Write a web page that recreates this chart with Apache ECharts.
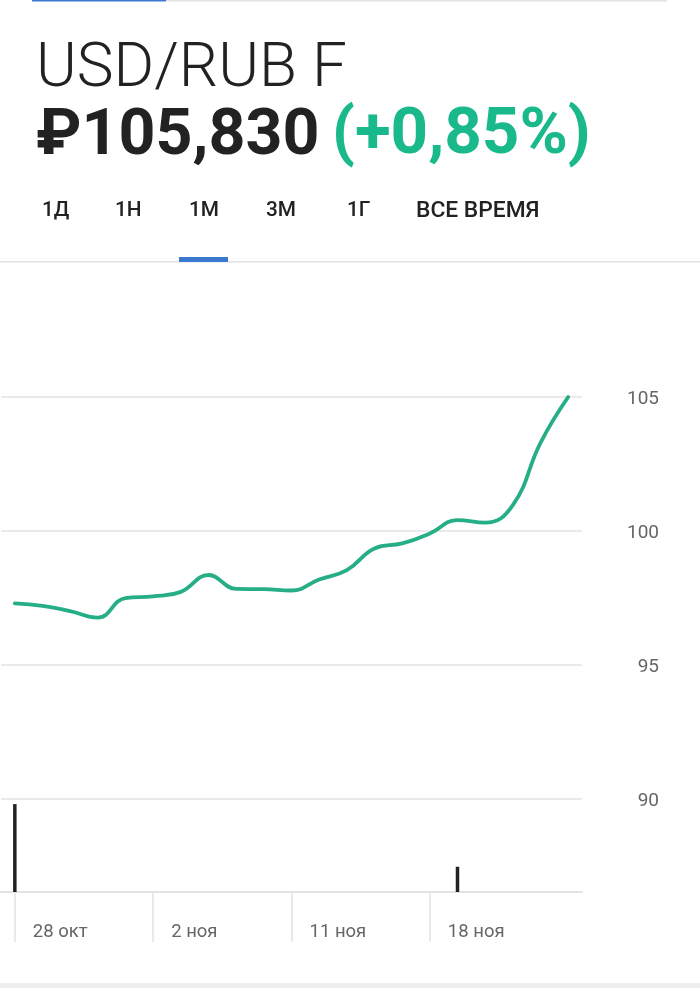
<!DOCTYPE html>
<html>
<head>
<meta charset="utf-8">
<script src="https://cdn.jsdelivr.net/npm/echarts@6/dist/echarts.min.js"></script>
<style>
  html, body { margin: 0; padding: 0; background: #fff; }
  #chart { width: 700px; height: 988px; }
</style>
</head>
<body>
<div id="chart"></div>
<script>
var days = ['28 окт', '29 окт', '30 окт', '31 окт', '1 ноя', '2 ноя', '5 ноя', '6 ноя', '7 ноя', '8 ноя', '11 ноя',
  '12 ноя', '13 ноя', '14 ноя', '15 ноя', '18 ноя', '19 ноя', '20 ноя', '21 ноя', '22 ноя', '25 ноя'];
var prices = [97.29, 97.2, 97.0, 96.76, 97.49, 97.55, 97.72, 98.35, 97.83, 97.82, 97.77,
  98.18, 98.53, 99.34, 99.53, 99.9, 100.4, 100.31, 100.96, 103.29, 105.0];
var volumes = [94, null, null, null, null, null, null, null, null, null, null,
  null, null, null, null, null, 27, null, null, null, null];
var shownDays = ['28 окт', '2 ноя', '11 ноя', '18 ноя'];
var periods = ['1Д', '1Н', '1М', '3М', '1Г', 'ВСЕ ВРЕМЯ'];

var periodX = [42, 115, 189, 266, 347, 416];
var font = 'Roboto, sans-serif';
var gridColor = '#e3e3e3';
var green = '#26ae86';

function isShown(index) {
  return shownDays.indexOf(days[index]) >= 0;
}

var chart = echarts.init(document.getElementById('chart'));

var header = [
  { type: 'rect', shape: { x: 166, y: 0, width: 501, height: 1.5 }, style: { fill: gridColor } },
  { type: 'rect', shape: { x: 32, y: 0, width: 134, height: 1.5 }, style: { fill: '#3b78d0' } },
  { type: 'text', x: 36, y: 101, style: { text: 'USD/RUB F', font: '300 62px ' + font, fill: '#222', textVerticalAlign: 'bottom' } },
  { type: 'text', x: 36, y: 170, style: { text: '₽105,830', font: '700 64.5px ' + font, fill: '#222', textVerticalAlign: 'bottom' } },
  { type: 'text', x: 332, y: 170, style: { text: '(+0,85%)', font: '700 65.5px ' + font, fill: '#19b98b', textVerticalAlign: 'bottom' } },
  { type: 'rect', shape: { x: 0, y: 261, width: 700, height: 1.5 }, style: { fill: gridColor } },
  { type: 'rect', shape: { x: 179, y: 257, width: 49, height: 5 }, style: { fill: '#3b78d0' } },
  { type: 'rect', shape: { x: 0, y: 983, width: 700, height: 5 }, style: { fill: '#eeeeee' } }
];
periods.forEach(function (label, i) {
  var size = label.length > 2 ? 22.8 : 20.8;
  header.push({ type: 'text', x: periodX[i], y: 211, style: { text: label, font: '500 ' + size + 'px ' + font, fill: '#222', textVerticalAlign: 'middle' } });
});

chart.setOption({
  animation: false,
  backgroundColor: '#fff',
  graphic: header,
  grid: [
    { left: 1, width: 581, top: 397, height: 401.5 },
    { left: 1, width: 581, top: 798.5, height: 93.5 }
  ],
  xAxis: [
    { type: 'category', gridIndex: 0, data: days, boundaryGap: true, axisLine: { show: false }, axisTick: { show: false }, axisLabel: { show: false } },
    {
      type: 'category', gridIndex: 1, data: days, boundaryGap: true,
      axisLine: { lineStyle: { color: gridColor, width: 2 } },
      axisTick: {
        show: true, alignWithLabel: true, length: 50,
        interval: function (index) { return isShown(index); },
        lineStyle: { color: gridColor, width: 1.5 }
      },
      axisLabel: {
        interval: function (index) { return isShown(index); },
        align: 'left', padding: [0, 0, 0, 18], margin: 31, hideOverlap: false,
        fontFamily: font, fontSize: 18.5, color: '#666'
      }
    }
  ],
  yAxis: [
    {
      type: 'value', gridIndex: 0, position: 'right', min: 90, max: 105, interval: 5,
      axisLine: { show: false }, axisTick: { show: false },
      splitLine: { lineStyle: { color: gridColor, width: 1.5 } },
      // short line box keeps the numbers a little under their grid lines
      axisLabel: { align: 'right', verticalAlign: 'top', lineHeight: 5, margin: 77, fontFamily: font, fontSize: 19, color: '#666' }
    },
    { type: 'value', gridIndex: 1, min: 0, max: 100, show: false }
  ],
  series: [
    {
      type: 'line', xAxisIndex: 0, yAxisIndex: 0, data: prices, smooth: 0.45,
      showSymbol: false, lineStyle: { color: green, width: 3.8, cap: 'round' }
    },
    {
      type: 'bar', xAxisIndex: 1, yAxisIndex: 1, data: volumes, barWidth: 3.5,
      itemStyle: { color: '#222' }
    }
  ]
});
</script>
</body>
</html>
